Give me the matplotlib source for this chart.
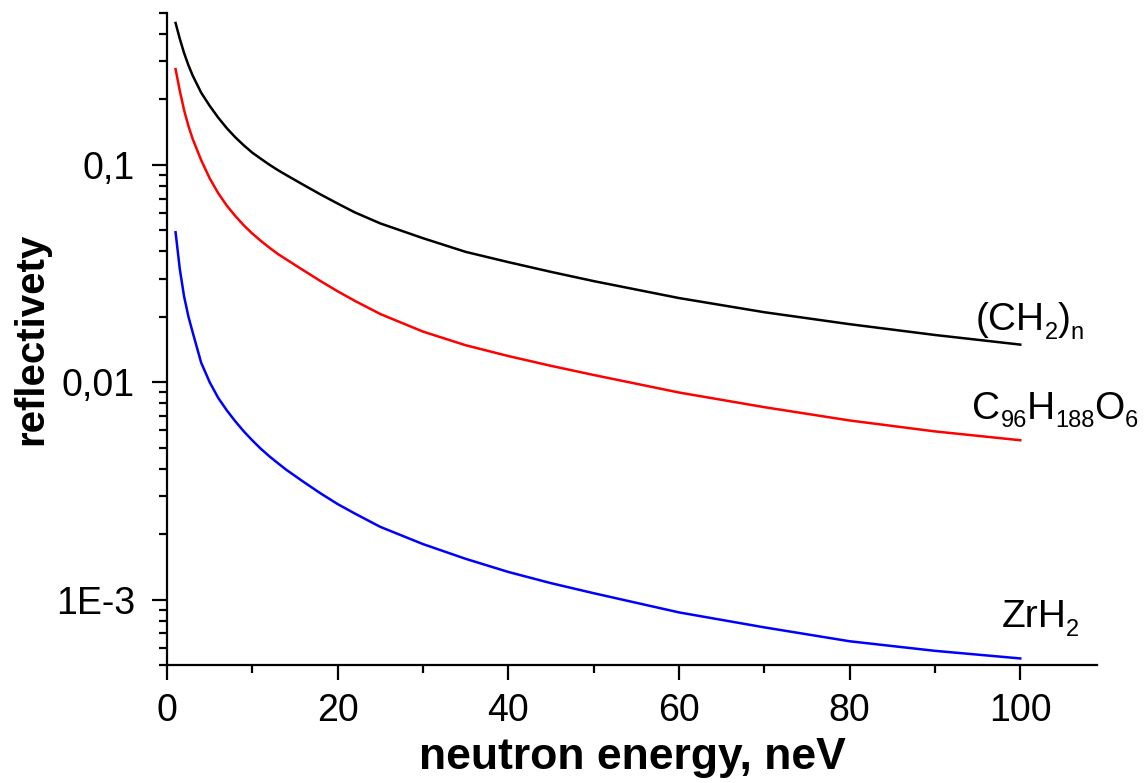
import numpy as np
import matplotlib.pyplot as plt
from matplotlib.ticker import FixedLocator, FixedFormatter, LogLocator, NullFormatter, MultipleLocator

plt.rcParams['font.family'] = ['Liberation Sans', 'DejaVu Sans']

# neutron energy, neV
energy = [1, 1.5, 2, 2.5, 3, 4, 5, 6, 7, 8, 9, 10, 11, 12, 13, 14, 16, 18,
          20, 22, 25, 30, 35, 40, 45, 50, 60, 70, 80, 90, 100]

# reflectivity
ch2 = [0.45, 0.38, 0.327, 0.288, 0.258, 0.215, 0.187, 0.165, 0.1476, 0.134,
       0.123, 0.1138, 0.1067, 0.1002, 0.0946, 0.0897, 0.0809, 0.0731,
       0.0664, 0.0605, 0.0538, 0.0460, 0.0398, 0.0357, 0.0322, 0.0292,
       0.0244, 0.0210, 0.0185, 0.0165, 0.0149]
c96 = [0.276, 0.2188, 0.1786, 0.1514, 0.1318, 0.1052, 0.0867, 0.0741, 0.0650,
       0.0582, 0.0527, 0.0483, 0.0447, 0.0416, 0.0389, 0.0367, 0.0327,
       0.0292, 0.0262, 0.0237, 0.0206, 0.0171, 0.0148, 0.0132, 0.0119,
       0.0108, 0.00897, 0.00768, 0.00667, 0.00594, 0.00541]
zrh2 = [0.0490, 0.0331, 0.0248, 0.0201, 0.0170, 0.0123, 0.0100, 0.00847,
        0.00743, 0.00661, 0.00594, 0.00540, 0.00494, 0.00456, 0.00424,
        0.00395, 0.00348, 0.00308, 0.00275, 0.00249, 0.00216, 0.00180,
        0.00154, 0.00134, 0.00119, 0.00107, 0.000873, 0.000745, 0.000643,
        0.000581, 0.000536]

ytick_vals = [1e-3, 1e-2, 1e-1]
ytick_labels = ['1E-3', '0,01', '0,1']

# curve labels: (text, is_subscript)
lbl_ch2 = [('(CH', False), ('2', True), (')', False), ('n', True)]
lbl_c96 = [('C', False), ('96', True), ('H', False), ('188', True),
           ('O', False), ('6', True)]
lbl_zrh2 = [('ZrH', False), ('2', True)]


def formula(ax, x, y, parts, size=28, sub_size=17, drop=4.2):
    """Write a chemical formula piece by piece with real subscripts."""
    prev = ax.text(x, y, parts[0][0], fontsize=size, ha='left', va='baseline')
    was_sub = parts[0][1]
    for s, is_sub in parts[1:]:
        dy = 0
        if is_sub and not was_sub:
            dy = -drop
        elif was_sub and not is_sub:
            dy = drop
        prev = ax.annotate(s, xy=(1, 0), xycoords=prev, xytext=(0, dy),
                           textcoords='offset points', ha='left', va='bottom',
                           fontsize=sub_size if is_sub else size)
        was_sub = is_sub


fig = plt.figure(figsize=(11.48, 7.83), dpi=100)
ax = fig.add_axes([0.1455, 0.1507, 0.8101, 0.8327])

ax.plot(energy, ch2, color='black', lw=1.8)
ax.plot(energy, c96, color='#ff0000', lw=1.8)
ax.plot(energy, zrh2, color='#0000ff', lw=1.8)

ax.set_yscale('log')
ax.set_xlim(0, 109)
ax.set_ylim(5e-4, 0.5)

ax.yaxis.set_major_locator(FixedLocator(ytick_vals))
ax.yaxis.set_major_formatter(FixedFormatter(ytick_labels))
ax.yaxis.set_minor_locator(LogLocator(base=10, subs=np.arange(2, 10), numticks=20))
ax.yaxis.set_minor_formatter(NullFormatter())
ax.xaxis.set_major_locator(MultipleLocator(20))
ax.xaxis.set_minor_locator(MultipleLocator(10))

for s in ['top', 'right']:
    ax.spines[s].set_visible(False)
for s in ['left', 'bottom']:
    ax.spines[s].set_linewidth(1.6)

ax.tick_params(which='major', direction='out', length=11, width=1.6,
               labelsize=27)
ax.tick_params(which='minor', direction='out', length=6, width=1.6)
ax.tick_params(axis='y', which='major', pad=12)
ax.tick_params(axis='x', which='major', pad=9)

ax.set_xlabel('neutron energy, neV', fontsize=32, fontweight='bold', labelpad=6)
ax.set_ylabel('reflectivety', fontsize=29, fontweight='bold', labelpad=4)

formula(ax, 94.8, 0.0174, lbl_ch2)
formula(ax, 94.4, 0.0068, lbl_c96)
formula(ax, 97.8, 0.00075, lbl_zrh2)

fig.savefig('out.png', dpi=100)
